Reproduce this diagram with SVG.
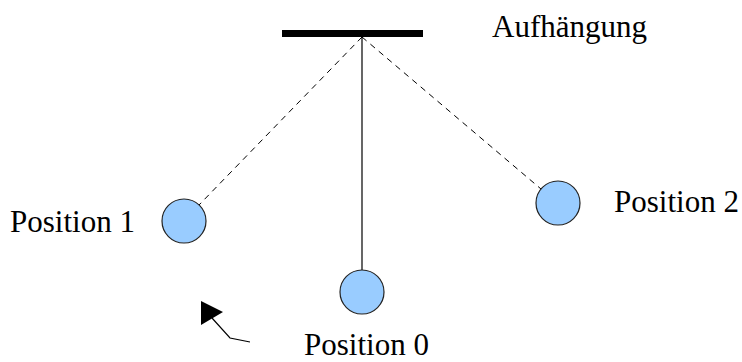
<svg xmlns="http://www.w3.org/2000/svg" width="742" height="362" viewBox="0 0 742 362">
<style>
.lbl{font-family:"Liberation Serif","Times New Roman",serif;font-size:31px;fill:#000}
.bob{fill:#99ccff;stroke:#222;stroke-width:1.2}
.dash{stroke:#000;stroke-width:1;stroke-dasharray:6,5;fill:none}
</style>
<rect width="742" height="362" fill="#fff"/>
<g id="suspension">
<rect x="282" y="30" width="141" height="7" fill="#000"/>
<text class="lbl" x="492" y="37">Aufhängung</text>
</g>
<g id="connectors">
<line x1="362" y1="37" x2="362" y2="270" stroke="#000" stroke-width="1.2"/>
<line class="dash" x1="362" y1="37" x2="199" y2="205"/>
<line class="dash" x1="362" y1="37" x2="541" y2="189"/>
<polyline points="212,318 230,338 250,342" fill="none" stroke="#000" stroke-width="1.2"/>
<polygon points="201,301 223,312 201,325" fill="#000"/>
</g>
<g id="pos1">
<circle class="bob" cx="184" cy="221" r="22"/>
<text class="lbl" x="10" y="232">Position 1</text>
</g>
<g id="pos0">
<circle class="bob" cx="362" cy="292" r="22"/>
<text class="lbl" x="304" y="355">Position 0</text>
</g>
<g id="pos2">
<circle class="bob" cx="558" cy="203" r="22"/>
<text class="lbl" x="614" y="212">Position 2</text>
</g>
</svg>
